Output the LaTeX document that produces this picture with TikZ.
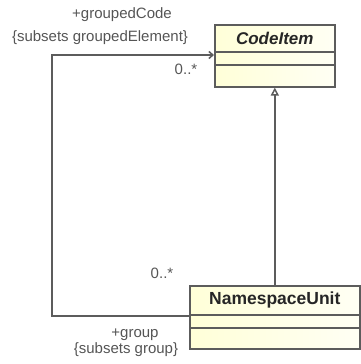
\documentclass[tikz,border=0pt]{standalone}
\usepackage{fontspec}
\setmainfont{Liberation Sans}
\usepackage{tikz}
\usetikzlibrary{arrows.meta, calc, positioning, shadows}
\definecolor{LineGray}{HTML}{5C5C5C}
\definecolor{TextGray}{HTML}{555555}
\definecolor{Cream}{HTML}{FFFFD8}
\definecolor{LCream}{HTML}{FFFFF4}

\begin{document}
\begin{tikzpicture}[x=1pt, y=-1pt,
  classbox/.style={draw=LineGray, line width=1.6pt, left color=Cream, right color=LCream,
    anchor=north west, inner sep=0pt,
    drop shadow={opacity=0.25, shadow xshift=1.5pt, shadow yshift=-1.5pt}},
  classname/.style={font=\fontsize{17.5}{19}\selectfont\bfseries, text=black!85},
  divider/.style={draw=LineGray, line width=1.5pt},
  role/.style={font=\fontsize{15}{17}\selectfont, text=TextGray, inner sep=0pt},
  link/.style={draw=LineGray, line width=1.5pt}]
  \useasboundingbox (0,0) rectangle (360,364);
  % Classes
  \node[classbox, minimum width=120pt, minimum height=62pt] (code) at (214,24) {};
  \node[classname, font=\fontsize{17}{19}\selectfont\bfseries\itshape] (codeName)
    at ($(code.north)+(0,14)$) {CodeItem};
  \draw[divider] ($(code.north west)+(0,28)$) -- ($(code.north east)+(0,28)$);
  \draw[divider] ($(code.north west)+(0,41)$) -- ($(code.north east)+(0,41)$);
  \node[classbox, minimum width=170pt, minimum height=63pt] (ns) at (189,285) {};
  \node[classname] (nsName) at ($(ns.north)+(0,15)$) {NamespaceUnit};
  \draw[divider] ($(ns.north west)+(0,30)$) -- ($(ns.north east)+(0,30)$);
  \draw[divider] ($(ns.north west)+(0,43)$) -- ($(ns.north east)+(0,43)$);
  % Generalization
  \draw[link, -{Triangle[open, length=8pt, width=8pt]}] (code.south |- ns.north) -- (code.south);
  % Association
  \coordinate (bendTop) at (52,55);
  \draw[link, -{Straight Barb[length=4pt, width=7pt]}]
    ($(ns.north west)+(0,31)$) -| (bendTop) -- ($(code.north west)+(0,31)$);
  % Role labels
  \node[role] (groupedCode) at (122,15) {+groupedCode};
  \node[role] (groupedSubsets) at (100,38) {\{subsets groupedElement\}};
  \node[role] (codeMult) at (186,69) {0..*};
  \node[role] (nsMult) at (162,273) {0..*};
  \node[role] (group) at (135,335) {+group};
  \node[role] (groupSubsets) at (126,350) {\{subsets group\}};
\end{tikzpicture}
\end{document}
